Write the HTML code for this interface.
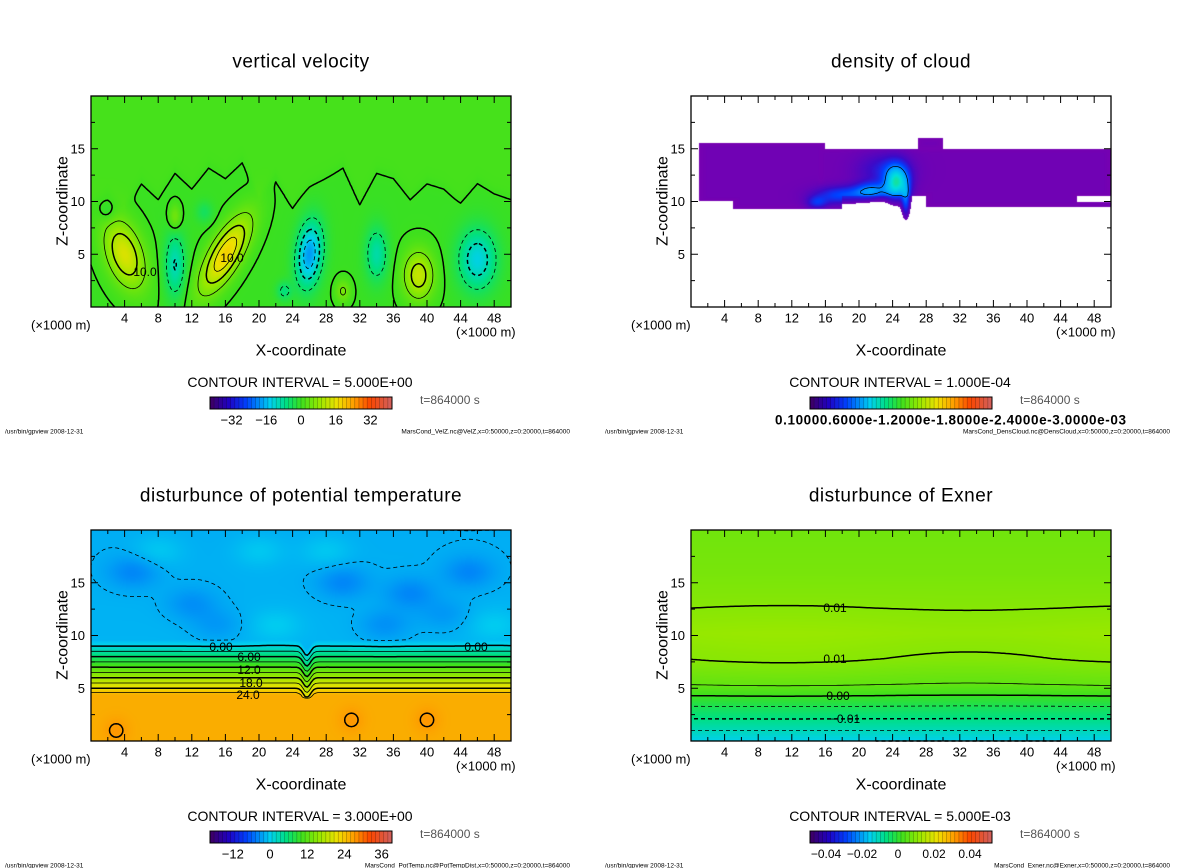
<!DOCTYPE html>
<html><head><meta charset="utf-8">
<style>
html,body{margin:0;padding:0;background:#fff;}
#root{position:relative;width:1200px;height:868px;overflow:hidden;font-family:"Liberation Sans","DejaVu Sans",sans-serif;}
canvas{position:absolute;}
svg{position:absolute;left:0;top:0;}
</style></head>
<body>
<div id="root">
<canvas id="c0" width="420" height="211" style="left:91px;top:96px"></canvas>
<canvas id="c1" width="420" height="211" style="left:691px;top:96px"></canvas>
<canvas id="c2" width="420" height="211" style="left:91px;top:530px"></canvas>
<canvas id="c3" width="420" height="211" style="left:691px;top:530px"></canvas>
<svg id="svg" width="1200" height="868" xmlns="http://www.w3.org/2000/svg"></svg>
</div>
<script>
// ---------- data ----------
// panel 1: vertical velocity blobs (x km, z km, amplitude m/s)
const velX=[4,16,10,10,26,34,39,46,23,30,13.5,2];
const velZ=[5,5,4,8.5,5,5,3,4.5,1.5,1.5,9,9];
const velAmp=[15,19,-10,6,-18,-9,13,-13,-6,6,-4,-3];
const velSx=[2.2,2.0,1.2,0.7,1.5,1.3,1.8,2.2,0.9,0.9,1,1];
const velSz=[3.2,3.5,3,1.2,3,2.5,2.3,2.8,0.9,1.1,1,1];
const velTilt=[-0.3,0.6,0,0,0.1,0,0,0,0,0,0,0];
// wavy upper boundary of the weak-updraft layer (x km, height offset km)
const noiseX=[0,2,4,6,8,10,12,14,16,18,20,22,24,26,28,30,32,34,36,38,40,42,44,46,48,50];
const noiseH=[-1.5,-0.5,-2,0.5,-1,1.5,0,2,1,2.5,-1,1,-2,0,1,2,-1.5,1.5,1,-1,0.5,0,-1.5,0.5,-0.5,-1];
// panel 2: cloud density bands and dense cores (kg/m3)
const bandX0=[1,5,15,28,46,27];
const bandX1=[16,18,50,46,50,30];
const bandZ0=[10,9.3,10.5,9.5,9.5,15];
const bandZ1=[15.5,12,15,11.5,10,16];
const denseX=[18,21.5,24.5,25.6,15,23];
const denseZ=[10.6,11,11.8,10,9.9,13];
const denseAmp=[3.5e-4,4.5e-4,8e-4,4e-4,2.5e-4,2e-4];
const denseSx=[3,2,1.4,0.5,1.2,3];
const denseSz=[0.8,0.8,1.6,1.6,0.6,1.5];
// panel 3: potential temperature profile + perturbations (K)
const tempZ=[0,4.3,4.6,5,9,9.6,20];
const tempV=[28.5,28.5,27,24,0,-2.6,-3];
const tpX=[5,12,20,30,38,45,22,35,8,28,3,40,31,48,15,42];
const tpZ=[16,13,18,15,14,16,11,11,18,18,1,2,2,11,11,12];
const tpAmp=[-2.5,-2,1.5,-2.5,-2.5,-2.5,1.5,-2,1.5,1.5,2,2,2,1.5,-1.5,-1.5];
// panel 4: Exner disturbance profile
const exZ=[0,1,2.1,3.3,4.3,5.3,7.7,10.2,12.6,16,20];
const exV=[-0.02,-0.015,-0.01,-0.005,0,0.005,0.01,0.012,0.01,0.008,0.007];
// axis tick labels
const xTicks=[4,8,12,16,20,24,28,32,36,40,44,48];
const zTicks=[5,10,15];
const cb0Labels=[-32,-16,0,16,32];
const cb2Labels=[-12,0,12,24,36];
const cb3Labels=[-0.04,-0.02,0,0.02,0.04];

// ---------- helpers ----------
const FW=420,FH=211;
function sx(x){return x/50*FW;}
function sz(z){return FH-z/20*FH;}
function g(x,z,bx,bz,ax,az,t){const dx=(x-bx-t*(z-bz))/ax,dz=(z-bz)/az;return Math.exp(-(dx*dx+dz*dz));}
function interp(xs,vs,v){if(v<=xs[0])return vs[0];for(let i=1;i<xs.length;i++){if(v<=xs[i]){const f=(v-xs[i-1])/(xs[i]-xs[i-1]);return vs[i-1]+f*(vs[i]-vs[i-1]);}}return vs[vs.length-1];}
const cmT=[0,0.1,0.2,0.33,0.42,0.5,0.6,0.7,0.8,0.88,1];
const cmC=[[64,0,96],[32,0,192],[0,64,255],[0,208,240],[0,224,128],[60,224,30],[150,232,0],[240,224,0],[255,150,0],[250,70,0],[208,96,96]];
const ccT=[0,0.15,0.3,0.5,0.7,0.85,1];
const ccC=[[122,0,176],[60,10,200],[0,64,255],[0,170,255],[0,224,220],[40,224,100],[150,232,0]];
function ramp(T,C,t){t=Math.max(0,Math.min(1,t));let i=1;while(i<T.length-1&&t>T[i])i++;const f=(t-T[i-1])/(T[i]-T[i-1]);const a=C[i-1],b=C[i];return [a[0]+f*(b[0]-a[0]),a[1]+f*(b[1]-a[1]),a[2]+f*(b[2]-a[2])];}
function cmap(t){return ramp(cmT,cmC,t);}

function f0(x,z){let v=0.6*Math.tanh((z-11.5-interp(noiseX,noiseH,x))/0.6)+0.3;
 for(let i=0;i<velX.length;i++)v+=velAmp[i]*g(x,z,velX[i],velZ[i],velSx[i],velSz[i],velTilt[i]);return v;}
function inBand(x,z){let v=0;for(let i=0;i<bandX0.length;i++){const ex=Math.min(x-bandX0[i],bandX1[i]-x),ez=Math.min(z-bandZ0[i],bandZ1[i]-z);const m=Math.min(ex*2,ez*4);if(m>0)v=Math.max(v,1.1e-4+Math.min(m,2)*0.1e-4);}return v;}
function f1(x,z){let v=inBand(x,z);let d=0;
 for(let i=0;i<denseX.length;i++)d+=denseAmp[i]*g(x,z,denseX[i],denseZ[i],denseSx[i],denseSz[i],0);
 if(v>0)return v+d;return d>1.2e-4?d:0;}
function f2(x,z){const dip=z>4&&z<10?0.9*Math.exp(-Math.pow((x-25.7)/0.6,2)):0;let v=interp(tempZ,tempV,z+dip);
 for(let i=0;i<tpX.length;i++)v+=tpAmp[i]*g(x,z,tpX[i],tpZ[i],tpZ[i]<5?1.5:3,tpZ[i]<5?1.2:1.5,0);return v;}
function f3(x,z){return interp(exZ,exV,z)+0.0006*Math.sin(x/7)*Math.exp(-Math.pow((z-8)/4,2));}

const panels=[
 {f:f0,vmin:-42,vmax:42,ci:5,ox:0,oy:0,cid:'c0'},
 {f:f1,vmin:1e-4,vmax:1.3e-3,ci:6e-4,ox:600,oy:0,cid:'c1',cloud:true},
 {f:f2,vmin:-23,vmax:44,ci:3,ox:0,oy:434,cid:'c2'},
 {f:f3,vmin:-0.06,vmax:0.06,ci:0.005,ox:600,oy:434,cid:'c3'}];

// fills
panels.forEach(p=>{const c=document.getElementById(p.cid).getContext('2d');const im=c.createImageData(FW,FH);
 for(let j=0;j<FH;j++)for(let i=0;i<FW;i++){const x=(i+0.5)/FW*50,z=20-(j+0.5)/FH*20;const v=p.f(x,z);let col;
  if(p.cloud&&v<1e-4)col=[255,255,255];else if(p.cloud)col=ramp(ccT,ccC,(v-p.vmin)/(p.vmax-p.vmin));else col=cmap((v-p.vmin)/(p.vmax-p.vmin));
  const k=(j*FW+i)*4;im.data[k]=col[0];im.data[k+1]=col[1];im.data[k+2]=col[2];im.data[k+3]=255;}
 c.putImageData(im,0,0);});

const NS='http://www.w3.org/2000/svg';const svg=document.getElementById('svg');
function el(tag,attrs,parent){const e=document.createElementNS(NS,tag);for(const k in attrs)e.setAttribute(k,attrs[k]);(parent||svg).appendChild(e);return e;}
function txt(s,x,y,size,anchor,parent,extra){const t=el('text',Object.assign({x:x,y:y,'font-size':size,'text-anchor':anchor||'middle','dominant-baseline':'central',fill:'#000'},extra||{}),parent);t.textContent=s;return t;}

// contours via marching squares, chained into polylines
function contours(p,grp){const NX=200,NZ=100;const val=[];for(let j=0;j<=NZ;j++){val.push([]);for(let i=0;i<=NX;i++)val[j].push(p.f(i/NX*50,20-j/NZ*20));}
 let vmin=Infinity,vmax=-Infinity;val.forEach(r=>r.forEach(v=>{vmin=Math.min(vmin,v);vmax=Math.max(vmax,v);}));
 const levels=[];const start=p.cloud?1:Math.ceil(vmin/p.ci);for(let k=start;k*p.ci<=vmax;k++){levels.push(k*p.ci);}
 levels.forEach(L=>{const cw=FW/NX,ch=FH/NZ;const segs=[];
  for(let j=0;j<NZ;j++)for(let i=0;i<NX;i++){const a=val[j][i],b=val[j][i+1],c=val[j+1][i+1],e=val[j+1][i];
   const pts=[];const X=i*cw,Y=j*ch;
   if((a>L)!=(b>L))pts.push([X+cw*(L-a)/(b-a),Y]);
   if((b>L)!=(c>L))pts.push([X+cw,Y+ch*(L-b)/(c-b)]);
   if((e>L)!=(c>L))pts.push([X+cw*(L-e)/(c-e),Y+ch]);
   if((a>L)!=(e>L))pts.push([X,Y+ch*(L-a)/(e-a)]);
   for(let q=0;q+1<pts.length;q+=2)segs.push([pts[q],pts[q+1]]);}
  if(!segs.length)return;
  const key=pt=>pt[0].toFixed(2)+','+pt[1].toFixed(2);const adj={};
  segs.forEach((s,i)=>{[0,1].forEach(e=>{const k=key(s[e]);(adj[k]=adj[k]||[]).push(i);});});
  const used=new Array(segs.length).fill(false);let d='';
  function walk(pt,chain){while(true){const list=adj[key(pt)]||[];let nx=-1;for(const si of list)if(!used[si]){nx=si;break;}if(nx<0)break;used[nx]=true;const s=segs[nx];const other=key(s[0])===key(pt)?s[1]:s[0];chain.push(other);pt=other;}}
  for(let i=0;i<segs.length;i++){if(used[i])continue;used[i]=true;const fw=[segs[i][1]];walk(segs[i][1],fw);const bw=[];walk(segs[i][0],bw);
   const chain=bw.reverse().concat([segs[i][0]],fw);d+='M'+chain.map(q=>q[0].toFixed(1)+' '+q[1].toFixed(1)).join('L');}
  const k=Math.round(L/p.ci);const thick=(k%2===0);
  const path=el('path',{d:d,fill:'none',stroke:'#000','stroke-width':p.cloud?0.7:(thick?1.5:0.8),'stroke-dasharray':L<-1e-12?'4 3':'none','stroke-linejoin':'round'},grp);
  
  });}

const titles=['vertical velocity','density of cloud','disturbunce of potential temperature','disturbunce of Exner'];
const intervals=['5.000E+00','1.000E-04','3.000E+00','5.000E-03'];
const files=['MarsCond_VelZ.nc@VelZ,x=0:50000,z=0:20000,t=864000','MarsCond_DensCloud.nc@DensCloud,x=0:50000,z=0:20000,t=864000','MarsCond_PotTemp.nc@PotTempDist,x=0:50000,z=0:20000,t=864000','MarsCond_Exner.nc@Exner,x=0:50000,z=0:20000,t=864000'];

panels.forEach((p,n)=>{
 const G=el('g',{transform:'translate('+p.ox+','+p.oy+')'});
 const t=txt(titles[n],301,62,19,'middle',G,{'letter-spacing':'0.5'});
 const F=el('g',{transform:'translate(91,96)'},G);
 contours(p,F);
 const fr=el('rect',{x:0,y:0,width:FW,height:FH,fill:'none',stroke:'#000','stroke-width':1.3},F);
 let d='';for(let x=2;x<50;x+=2){const L=(x%4===0)?7:4;d+='M'+sx(x)+' '+FH+'v'+(-L)+'M'+sx(x)+' 0v'+L;}
 for(let z=2.5;z<20;z+=2.5){const L=(z%5===0)?7:4;d+='M0 '+sz(z)+'h'+L+'M'+FW+' '+sz(z)+'h'+(-L);}
 const tk=el('path',{d:d,stroke:'#000','stroke-width':1,fill:'none'},F);
 xTicks.forEach(v=>{const e=txt(String(v),91+sx(v),318,13,'middle',G);});
 zTicks.forEach(v=>{const e=txt(String(v),85,96+sz(v),13,'end',G);});
 let e=txt('(\u00d71000 m)',31,325,13,'start',G);
 e=txt('(\u00d71000 m)',456,332,13,'start',G);
 e=txt('X-coordinate',301,351,16,'middle',G);
 e=txt('Z-coordinate',0,0,16,'middle',G,{transform:'translate(63,201) rotate(-90)'});
 e=txt('CONTOUR INTERVAL = '+intervals[n],300,382,14,'middle',G);
 // colorbar
 const CB=el('g',{},G);
 const NSeg=44;for(let s=0;s<NSeg;s++){const c=cmap((s+0.5)/NSeg);const r=el('rect',{x:210+s*182/NSeg,y:397,width:182/NSeg+0.3,height:12,fill:'rgb('+c.map(Math.round).join(',')+')'},CB);
  
  el('line',{x1:210+s*182/NSeg,x2:210+s*182/NSeg,y1:397,y2:409,stroke:'#000','stroke-opacity':0.35,'stroke-width':0.6},CB);}
 el('rect',{x:210,y:397,width:182,height:12,fill:'none',stroke:'#000','stroke-width':1},CB);
 e=txt('t=864000 s',420,400,12,'start',G,{fill:'#555'});
 e=txt('/usr/bin/gpview  2008-12-31',5,432,6.5,'start',G,{'xml:space':'preserve'});
 e=txt(files[n],570,432,6.5,'end',G);
 // colorbar labels
 if(n===0)cb0Labels.forEach(v=>{const l=txt(v<0?'\u2212'+(-v):String(v),301+v*2.17,420,13,'middle',G);});
 if(n===2)cb2Labels.forEach(v=>{const l=txt(v<0?'\u2212'+(-v):String(v),270+v*3.1,420,13,'middle',G);});
 if(n===3)cb3Labels.forEach(v=>{const s=v===0?'0':(v<0?'\u2212'+(-v).toFixed(2):v.toFixed(2));const l=txt(s,298+v*1800,420,12,'middle',G);});
 if(n===1){const l=txt('0.10000.6000e-1.2000e-1.8000e-2.4000e-3.0000e-03',175,420,13.5,'start',G,{'letter-spacing':'0.6','font-weight':'bold'});}
});
// contour value labels
function clabel(s,x,y){const t=txt(s,x,y,12,'middle');}
clabel('0.00',221,647);clabel('6.00',249,657);clabel('12.0',249,670);clabel('18.0',251,683);clabel('24.0',248,695);clabel('0.00',476,647);
clabel('0.01',835,608);clabel('0.01',835,659);clabel('0.00',838,696);clabel('\u22120.01',845,719);
clabel('10.0',145,272);clabel('10.0',232,258);
</script>
</body></html>
